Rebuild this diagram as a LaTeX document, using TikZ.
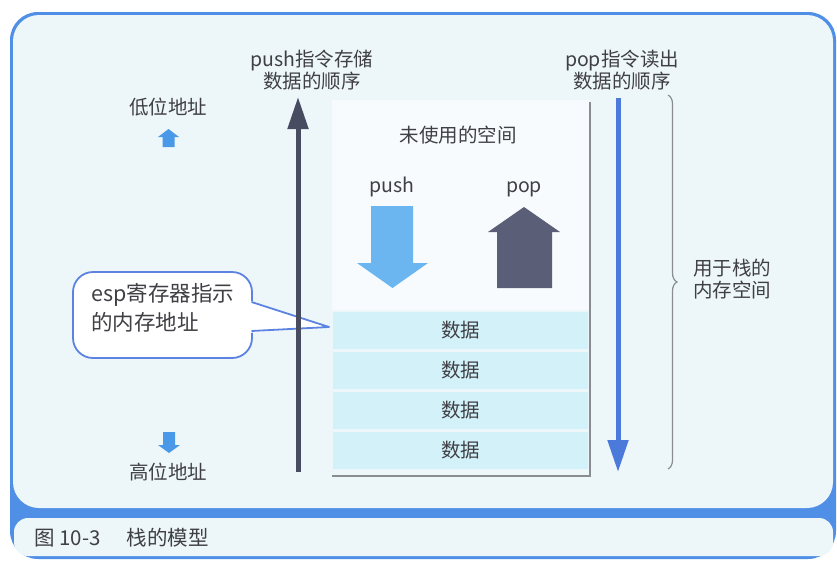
\documentclass[tikz,border=0pt]{standalone}
\usepackage{fontspec}
\setmainfont{Noto Sans CJK SC}
\usetikzlibrary{decorations.pathreplacing,arrows.meta}
\definecolor{frameblue}{HTML}{4F8FE6}
\definecolor{panel}{HTML}{EDF7FA}
\definecolor{unused}{HTML}{F7FBFD}
\definecolor{datacyan}{HTML}{D3F1F8}
\definecolor{txt}{HTML}{3F3F45}
\definecolor{pushdark}{HTML}{484C60}
\definecolor{popblue}{HTML}{4C7ADA}
\definecolor{pushlight}{HTML}{6BB6F1}
\definecolor{smallblue}{HTML}{4A98E8}
\definecolor{popdark}{HTML}{5A5E76}
\definecolor{calloutblue}{HTML}{5C83E2}
\definecolor{linegray}{HTML}{8A8C94}
\tikzset{
  lbl/.style={text=txt, font=\fontsize{19.5}{22}\selectfont, inner sep=0pt},
  datarow/.style={lbl, fill=datacyan, minimum width=255pt, minimum height=37pt},
  bigarrow/.style={line width=5pt, -{Triangle[width=20pt,length=32pt]}},
}
\begin{document}
\begin{tikzpicture}[x=1pt,y=-1pt]
\useasboundingbox (0,0) rectangle (837,560);
\fill[white] (0,0) rectangle (837,560);
% frame
\fill[frameblue, rounded corners=28pt] (10,12) rectangle (836,559);
\fill[panel, rounded corners=26pt] (13,15) rectangle (833,508);
\fill[panel, rounded corners=14pt] (14,518) rectangle (833,556);
% unused memory area
\fill[unused] (332,100) rectangle (590,310);
% data rows
\node[datarow] (d1) at (460.5,330) {数据};
\node[datarow] (d2) at (460.5,370) {数据};
\node[datarow] (d3) at (460.5,410) {数据};
\node[datarow] (d4) at (460.5,450) {数据};
% gray boundary
\coordinate (gtop) at (590,102);
\coordinate (gcorner) at (590,476);
\coordinate (gleft) at (332,476);
\draw[linegray, line width=1.2pt] (gtop) -- (gcorner) -- (gleft);
% labels
\node[lbl] (unusedlbl) at (458,135) {未使用的空间};
\node[lbl] (pushlbl) at (392,187) {push};
\node[lbl] (poplbl) at (524,189) {pop};
\node[lbl, align=center] (pushtitle) at (312,70) {push指令存储\\数据的顺序};
\node[lbl, align=center] (poptitle) at (622,70) {pop指令读出\\数据的顺序};
\node[lbl] (low) at (168,107) {低位地址};
\node[lbl] (high) at (168,472) {高位地址};
\node[lbl, align=left, anchor=west] (bracelbl) at (693,279) {用于栈的\\内存空间};
% block arrows
\fill[pushlight] (371,206) -- (413,206) -- (413,263) -- (428,263) -- (392.5,288) -- (357,263) -- (371,263) -- cycle;
\fill[popdark] (524,207) -- (560,232) -- (552,232) -- (552,288) -- (497,288) -- (497,232) -- (488,232) -- cycle;
% small arrows
\fill[smallblue] (168.5,129) -- (179,137) -- (174.5,137) -- (174.5,147) -- (162.5,147) -- (162.5,137) -- (158,137) -- cycle;
\fill[smallblue] (163,432) -- (175,432) -- (175,445) -- (180,445) -- (169,453) -- (158,445) -- (163,445) -- cycle;
% callout
\node[draw=calloutblue, fill=white, line width=1.8pt, rounded corners=20pt, minimum width=179pt, minimum height=86pt, inner sep=0pt] (callout) at (162.5,315) {};
\fill[white] (248,300) -- (328,327) -- (248,333) -- cycle;
\coordinate (esptip) at (329,327);
\draw[calloutblue, line width=1.8pt, line join=round] (251.5,302) -- (esptip) -- (251.5,331);
\node[lbl, align=left, anchor=west, font=\fontsize{21.5}{29}\selectfont] (calloutlbl) at (91,308) {esp寄存器指示\\的内存地址};
% order arrows
\coordinate (pushbot) at (298,472);
\coordinate (pushtop) at (298,97);
\draw[pushdark, bigarrow] (pushbot) -- (pushtop);
\coordinate (poptop) at (618,98);
\coordinate (popbot) at (618,472);
\draw[popblue, bigarrow] (poptop) -- (popbot);
% brace
\coordinate (btop) at (668,95);
\coordinate (bbot) at (668,469);
\draw[linegray, line width=1.2pt, decorate, decoration={brace, amplitude=9pt}] (btop) -- (bbot);
% caption
\node[lbl, anchor=west, font=\fontsize{20.5}{22}\selectfont] (caption) at (34,538) {图 10-3\hspace{26pt}栈的模型};
\end{tikzpicture}
\end{document}
